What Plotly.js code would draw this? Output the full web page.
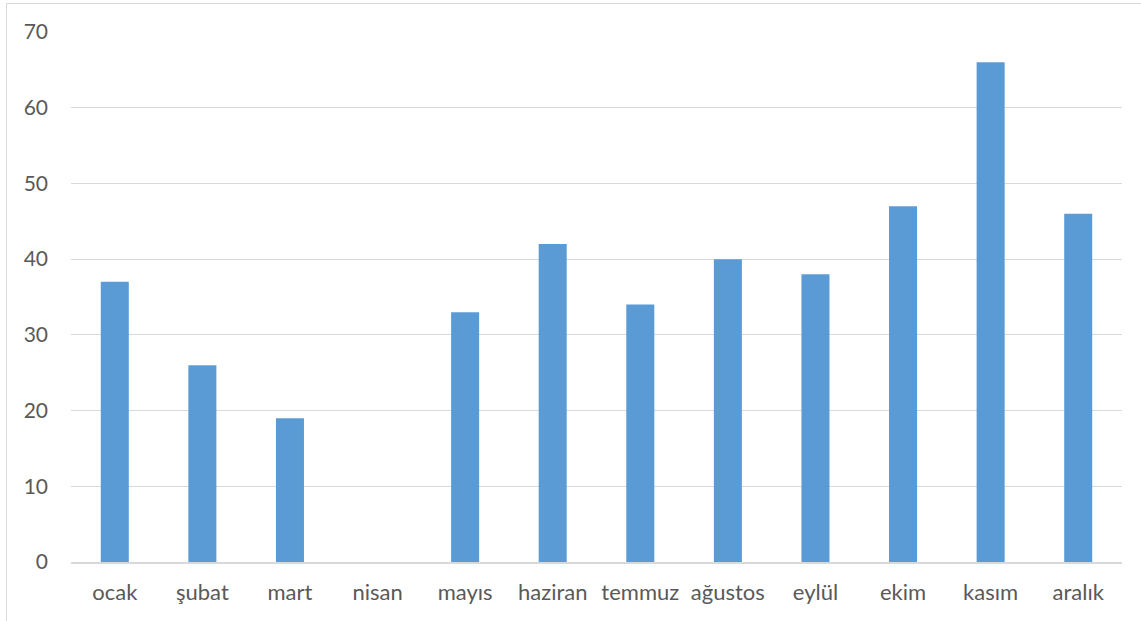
<!DOCTYPE html>
<html>
<head>
<meta charset="utf-8">
<script src="https://cdn.plot.ly/plotly-3.0.1.min.js"></script>
<style>html,body{margin:0;padding:0;background:#fff;}#chart{width:1141px;height:621px;}</style>
</head>
<body>
<div id="chart"></div>
<script>
const months = ["ocak","şubat","mart","nisan","mayıs","haziran","temmuz","ağustos","eylül","ekim","kasım","aralık"];
const values = [37,26,19,0,33,42,34,40,38,47,66,46];
const yTicks = [0,10,20,30,40,50,60,70];

const trace = {
  type: 'bar',
  x: months,
  y: values,
  marker: {color: '#5b9bd5'},
  hoverinfo: 'x+y'
};

const layout = {
  width: 1141,
  height: 621,
  margin: {l: 71, r: 19, t: 32, b: 59},
  paper_bgcolor: '#ffffff',
  plot_bgcolor: '#ffffff',
  bargap: 0.68,
  showlegend: false,
  font: {family: 'Lato, "Open Sans", sans-serif', size: 22, color: '#595959'},
  xaxis: {
    type: 'category',
    showgrid: false,
    showline: true,
    linecolor: '#d9d9d9',
    linewidth: 1.5,
    ticks: '',
    ticklabelstandoff: 10,
    tickfont: {size: 22, color: '#595959'},
    zeroline: false
  },
  yaxis: {
    range: [0, 70],
    tickvals: yTicks,
    ticktext: yTicks.map(String),
    showgrid: true,
    gridcolor: '#d9d9d9',
    gridwidth: 1,
    zeroline: false,
    showline: false,
    ticks: '',
    ticklabelstandoff: 22,
    tickfont: {size: 21, color: '#595959'}
  },
  shapes: [{
    type: 'rect',
    xref: 'paper', yref: 'paper',
    x0: -0.0614, x1: 1.2,
    y0: -0.3, y1: 1.0538,
    line: {color: '#d9d9d9', width: 1},
    fillcolor: 'rgba(0,0,0,0)',
    layer: 'below'
  }]
};

Plotly.newPlot('chart', [trace], layout, {displayModeBar: false, staticPlot: true});
</script>
</body>
</html>
